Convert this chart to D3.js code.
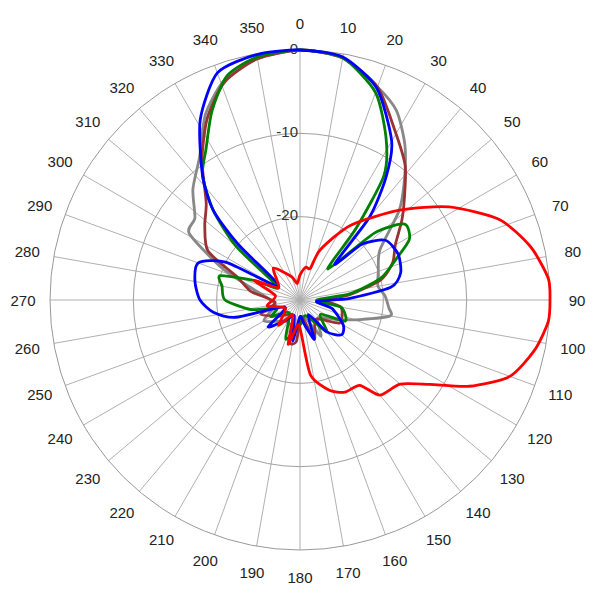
<!DOCTYPE html>
<html><head><meta charset="utf-8">
<script src="https://cdn.jsdelivr.net/npm/d3@7"></script>
<style>body{margin:0;background:#fff}</style></head>
<body><svg id="c" width="600" height="600"></svg>
<script>
const angleTicks = d3.range(0, 360, 10);
const ringTicks = [0, -10, -20];
const seriesNames = ["gray", "brown", "green", "blue", "red"];
const seriesColors = ["#888888", "#993333", "#008000", "#0000ff", "#ff0000"];
const grayData = [[0,0],[10,-0.5],[20,-2.8],[27,-4.5],[34,-7.5],[41,-10.9],[48,-14],[58,-18.7],[70,-20],[80,-20.5],[87,-19.8],[95,-19.3],[100,-19],[108,-22.4],[118,-25],[135,-27],[150,-25],[170,-28],[190,-26],[210,-27],[240,-25],[260,-27],[280,-25],[292,-20],[301,-14.5],[308,-14],[316,-11.5],[325,-9],[333,-5],[341,-2.1],[350,-0.6]];
const brownData = [[0,0],[10,-0.5],[20,-2.8],[29,-6.6],[38,-9.5],[46,-12.6],[52,-14.5],[60,-16.8],[68,-18],[76,-20],[84,-24],[90,-27],[100,-25],[120,-24.5],[140,-27],[160,-25],[175,-28],[185,-25],[194,-24.8],[205,-28],[230,-27],[250,-25],[265,-27],[280,-24],[290,-22],[298,-17.5],[308,-15.5],[316,-13.8],[325,-9.5],[333,-5.5],[341,-2.3],[350,-0.6]];
const greenData = [[0,0],[10,-0.5],[20,-3.5],[28,-8],[34,-12],[38,-19],[42,-25],[48,-18],[54,-14.5],[61,-15],[67,-17.5],[75,-20],[83,-24],[90,-28],[100,-25],[115,-24],[125,-27],[140,-25],[160,-28],[180,-27],[200,-25],[220,-28],[240,-26],[250,-27],[259,-24],[270,-21],[280,-20.5],[287,-20],[293,-24],[300,-27],[310,-20],[316,-15],[322,-11],[328,-8.7],[335,-5],[342,-1.7],[350,-0.4]];
const blueData = [[0,0],[10,-0.4],[20,-3],[30,-8],[35,-12],[40,-17],[44,-24],[48,-20],[55,-17.5],[65,-17],[75,-17.5],[82,-19],[88,-24],[95,-28],[105,-26],[120,-24],[130,-23.5],[140,-25],[150,-28],[160,-25],[170,-27],[180,-28],[190,-25],[200,-28],[215,-27],[230,-25],[245,-28],[255,-22],[262,-19.5],[270,-18],[280,-17.2],[290,-17],[297,-20],[303,-27],[312,-20],[316,-15],[322,-11],[331,-5.3],[340,-1],[350,-0.1]];
const redData = [[0,-27],[10,-26],[18,-26],[22,-23.5],[34,-19.2],[48,-13.9],[58,-8.9],[68,-4.2],[77,-1.6],[85,-0.1],[90,0],[95,-0.1],[102,-1.2],[110,-3.2],[117,-7.2],[123,-11.4],[130,-14.3],[140,-15.1],[145,-17.5],[154,-17.7],[162,-18.6],[172,-20.9],[178,-26],[185,-27],[195,-24.5],[205,-28],[220,-26],[240,-28],[260,-26],[280,-27],[293,-24],[300,-27],[320,-25],[340,-27],[350,-28]];
const allData = [grayData, brownData, greenData, blueData, redData];

const svg = d3.select("#c");
const cx = 300, cy = 300, R = 250;
const r = d3.scaleLinear().domain([-30, 0]).range([0, R]);
const a = d3.scaleLinear().domain([0, 360]).range([0, 2 * Math.PI]);
const g = svg.append("g").attr("transform", `translate(${cx},${cy})`);

g.selectAll("line.spoke").data(angleTicks).join("line")
  .attr("x1", 0).attr("y1", 0)
  .attr("x2", d => R * Math.sin(a(d))).attr("y2", d => -R * Math.cos(a(d)))
  .attr("stroke", "#b0b0b0").attr("stroke-width", 1);
g.selectAll("circle.ring").data(ringTicks).join("circle")
  .attr("r", d => r(d)).attr("fill", "none")
  .attr("stroke", d => d === 0 ? "#999" : "#a0a0a0").attr("stroke-width", 1);

g.selectAll("text.ang").data(angleTicks).join("text")
  .attr("x", d => 277 * Math.sin(a(d))).attr("y", d => -277 * Math.cos(a(d)))
  .attr("text-anchor", "middle").attr("dominant-baseline", "central")
  .attr("font-family", "Liberation Sans, Arial, sans-serif").attr("font-size", 15).attr("fill", "#222")
  .text(d => d);
g.selectAll("text.ring").data(ringTicks).join("text")
  .attr("x", -2).attr("y", d => -r(d) - 2)
  .attr("text-anchor", "end").attr("dominant-baseline", "central")
  .attr("font-family", "Liberation Sans, Arial, sans-serif").attr("font-size", 15).attr("fill", "#333")
  .text(d => d);

const line = d3.lineRadial().angle(d => a(d[0])).radius(d => r(d[1])).curve(d3.curveCardinalClosed.tension(0.3));
allData.forEach((data, i) => {
  g.append("path").attr("d", line(data)).attr("fill", "none")
    .attr("stroke", seriesColors[i]).attr("stroke-width", 2.8).attr("stroke-linejoin", "round");
});
</script></body></html>
